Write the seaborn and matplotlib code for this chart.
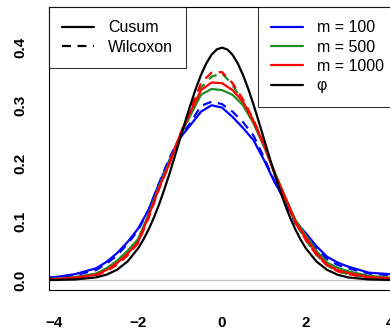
import numpy as np
import pandas as pd
import matplotlib
matplotlib.use("Agg")
import matplotlib.pyplot as plt
import seaborn as sns
from matplotlib.lines import Line2D

x = [-4.5, -4, -3.5, -3, -2.75, -2.5, -2.25, -2, -1.75, -1.5, -1.25, -1, -0.75, -0.5, -0.25,
     0, 0.25, 0.5, 0.75, 1, 1.25, 1.5, 1.75, 2, 2.25, 2.5, 2.75, 3, 3.5, 4, 4.5]

x_phi = [-4.5, -4, -3.5, -3, -2.75, -2.5, -2.25, -2, -1.875, -1.75, -1.625, -1.5, -1.375,
         -1.25, -1.125, -1, -0.875, -0.75, -0.625, -0.5, -0.375, -0.25, -0.125, 0,
         0.125, 0.25, 0.375, 0.5, 0.625, 0.75, 0.875, 1, 1.125, 1.25, 1.375, 1.5,
         1.625, 1.75, 1.875, 2, 2.25, 2.5, 2.75, 3, 3.5, 4, 4.5]
phi = [0.00002, 0.0001, 0.0009, 0.0044, 0.0091, 0.0175, 0.0317, 0.0540, 0.0689, 0.0863,
       0.1065, 0.1295, 0.1551, 0.1826, 0.2119, 0.2420, 0.2721, 0.3011, 0.3282, 0.3521,
       0.3718, 0.3867, 0.3958, 0.3989, 0.3958, 0.3867, 0.3718, 0.3521, 0.3282, 0.3011,
       0.2721, 0.2420, 0.2119, 0.1826, 0.1551, 0.1295, 0.1065, 0.0863, 0.0689, 0.0540,
       0.0317, 0.0175, 0.0091, 0.0044, 0.0009, 0.0001, 0.00002]

cusum_100 = [0.004, 0.0046, 0.010, 0.020, 0.031, 0.046, 0.065, 0.088, 0.120, 0.165, 0.206,
             0.244, 0.266, 0.289, 0.300, 0.296, 0.280, 0.261, 0.240, 0.206, 0.168, 0.137,
             0.100, 0.080, 0.058, 0.040, 0.030, 0.023, 0.0125, 0.010, 0.008]
wilc_100 = [0.003, 0.004, 0.008, 0.017, 0.028, 0.042, 0.062, 0.085, 0.120, 0.166, 0.210,
            0.245, 0.270, 0.299, 0.306, 0.302, 0.289, 0.271, 0.248, 0.210, 0.170, 0.135,
            0.097, 0.077, 0.054, 0.036, 0.026, 0.020, 0.011, 0.008, 0.006]
cusum_500 = [0.001, 0.002, 0.005, 0.011, 0.020, 0.033, 0.050, 0.070, 0.112, 0.161, 0.203,
             0.247, 0.283, 0.318, 0.328, 0.326, 0.318, 0.300, 0.269, 0.229, 0.186, 0.143,
             0.103, 0.076, 0.050, 0.030, 0.021, 0.015, 0.007, 0.004, 0.002]
wilc_500 = [0.0005, 0.001, 0.004, 0.009, 0.017, 0.028, 0.045, 0.066, 0.108, 0.158, 0.203,
            0.248, 0.290, 0.330, 0.349, 0.355, 0.335, 0.305, 0.275, 0.232, 0.185, 0.140,
            0.098, 0.068, 0.043, 0.025, 0.015, 0.010, 0.004, 0.002, 0.001]
cusum_1000 = [0.001, 0.0015, 0.004, 0.009, 0.017, 0.029, 0.045, 0.065, 0.109, 0.158, 0.200,
              0.249, 0.289, 0.326, 0.339, 0.338, 0.326, 0.306, 0.272, 0.232, 0.183, 0.143,
              0.100, 0.072, 0.046, 0.026, 0.017, 0.012, 0.005, 0.003, 0.001]
wilc_1000 = [0.0005, 0.001, 0.004, 0.008, 0.015, 0.026, 0.042, 0.063, 0.106, 0.156, 0.200,
             0.250, 0.293, 0.338, 0.356, 0.357, 0.338, 0.310, 0.275, 0.233, 0.185, 0.140,
             0.098, 0.068, 0.043, 0.025, 0.015, 0.010, 0.004, 0.002, 0.001]

m_labels = ["m = 100", "m = 500", "m = 1000"]
methods = ["Cusum", "Wilcoxon"]
colors = {"m = 100": "#0000FF", "m = 500": "#228B22", "m = 1000": "#FF0000"}

series = {
    ("m = 100", "Cusum"): cusum_100, ("m = 100", "Wilcoxon"): wilc_100,
    ("m = 500", "Cusum"): cusum_500, ("m = 500", "Wilcoxon"): wilc_500,
    ("m = 1000", "Cusum"): cusum_1000, ("m = 1000", "Wilcoxon"): wilc_1000,
}
rows = []
for (m, meth), vals in series.items():
    for xi, yi in zip(x, vals):
        rows.append({"x": xi, "density": yi, "m": m, "method": meth})
df = pd.DataFrame(rows)
df_phi = pd.DataFrame({"x": x_phi, "density": phi})

sns.set_style("white")
plt.rcParams["font.family"] = ["Liberation Sans", "DejaVu Sans"]
plt.rcParams["text.color"] = "black"
plt.rcParams["xtick.color"] = "black"
plt.rcParams["ytick.color"] = "black"

fig = plt.figure(figsize=(3.9, 3.33), dpi=100)
ax = fig.add_axes([49 / 390, 43 / 333, (397 - 49) / 390, (290 - 7) / 333])

ax.axhline(0, color="#BEBEBE", lw=0.9, zorder=0)

lw = 1.6
sns.lineplot(data=df, x="x", y="density", hue="m", style="method",
             hue_order=m_labels, style_order=methods, palette=colors,
             dashes={"Cusum": "", "Wilcoxon": (4, 3)}, lw=lw,
             legend=False, ax=ax, estimator=None, sort=True)
sns.lineplot(data=df_phi, x="x", y="density", color="black", lw=lw, ax=ax,
             estimator=None)

xmin = -4 - 5 / 42
ax.set_xlim(xmin, xmin + (397 - 49) / 42)
ax.set_ylim(-0.0172, 0.4687)
ax.set_xticks([-4, -2, 0, 2, 4])
ax.set_yticks([0.0, 0.1, 0.2, 0.3, 0.4])
ax.set_xticklabels(["\u22124", "\u22122", "0", "2", "4"], fontweight="bold", fontsize=11,
                   color="black")
ax.set_yticklabels(["0.0", "0.1", "0.2", "0.3", "0.4"], fontweight="bold", fontsize=11,
                   rotation=90, va="center", color="black")
ax.tick_params(axis="x", length=7.5, width=0.8, pad=11, direction="out",
               color="black", labelcolor="black")
ax.tick_params(axis="y", length=7.5, width=0.8, pad=8, direction="out",
               color="black", labelcolor="black")
ax.set_xlabel("")
ax.set_ylabel("")
for s in ax.spines.values():
    s.set_visible(True)
    s.set_color("black")
    s.set_linewidth(0.8)

fs = 11.5
h1 = [Line2D([], [], color="black", lw=lw),
      Line2D([], [], color="black", lw=lw, dashes=(4, 3))]
leg1 = ax.legend(h1, methods, loc="upper left", bbox_to_anchor=(0, 1),
                 frameon=True, fancybox=False, edgecolor="black", fontsize=fs,
                 handlelength=2.0, handletextpad=0.85, borderpad=0.84,
                 labelspacing=0.27, borderaxespad=0, labelcolor="black")
leg1.get_frame().set_linewidth(0.8)
ax.add_artist(leg1)

h2 = [Line2D([], [], color=colors[m], lw=lw) for m in m_labels] + \
     [Line2D([], [], color="black", lw=lw)]
leg2 = ax.legend(h2, m_labels + ["\u03c6"], loc="upper right", bbox_to_anchor=(1, 1),
                 frameon=True, fancybox=False, edgecolor="black", fontsize=fs,
                 handlelength=2.0, handletextpad=0.85, borderpad=0.84,
                 labelspacing=0.27, borderaxespad=0, labelcolor="black")
leg2.get_frame().set_linewidth(0.8)

fig.savefig("out.png", dpi=100)
